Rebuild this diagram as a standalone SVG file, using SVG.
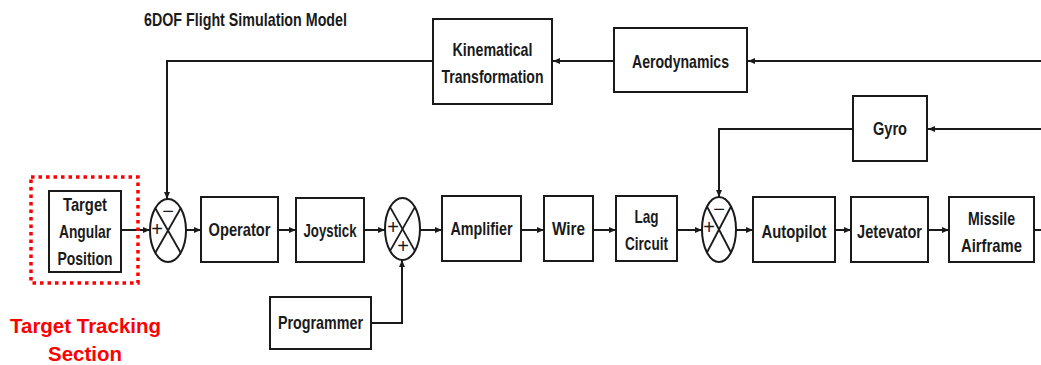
<svg xmlns="http://www.w3.org/2000/svg" width="1041" height="365" viewBox="0 0 1041 365">
<style>
.box{fill:#fff;stroke:#1a1a1a;stroke-width:2}
.lbl{font-family:"Liberation Sans",Arial,sans-serif;font-weight:bold;font-size:18.5px;fill:#1a1a1a;text-anchor:middle}
.sign{font-family:"Liberation Sans",Arial,sans-serif;font-size:20px;fill:#1a1a1a;text-anchor:middle}
.sum{fill:#fff;stroke:#1a1a1a;stroke-width:2}
.xl{stroke:#1a1a1a;stroke-width:1.8}
.c{fill:none;stroke:#1a1a1a;stroke-width:2}
.red{font-family:"Liberation Sans",Arial,sans-serif;font-weight:bold;font-size:21px;fill:#ff0000;text-anchor:middle}
</style>
<defs>
<marker id="ah" markerUnits="userSpaceOnUse" markerWidth="8" markerHeight="7" refX="7" refY="3" orient="auto">
<path d="M0,0 L7,3 L0,6 z" fill="#1a1a1a"/>
</marker>
</defs>
<text id="title" x="144" y="26" class="lbl" style="text-anchor:start;font-size:19px" textLength="203" lengthAdjust="spacingAndGlyphs">6DOF Flight Simulation Model</text>
<g id="connectors">
<path class="c" d="M1041,61 H748" marker-end="url(#ah)"/>
<path class="c" d="M614,61 H553" marker-end="url(#ah)"/>
<path class="c" d="M433,61 H167 V199" marker-end="url(#ah)"/>
<path class="c" d="M1041,129 H928" marker-end="url(#ah)"/>
<path class="c" d="M853,129 H719 V197" marker-end="url(#ah)"/>
<path class="c" d="M121,230 H150" marker-end="url(#ah)"/>
<path class="c" d="M186,230 H201" marker-end="url(#ah)"/>
<path class="c" d="M278,230 H296" marker-end="url(#ah)"/>
<path class="c" d="M364,230 H385" marker-end="url(#ah)"/>
<path class="c" d="M420,230 H442" marker-end="url(#ah)"/>
<path class="c" d="M521,230 H544" marker-end="url(#ah)"/>
<path class="c" d="M593,230 H616" marker-end="url(#ah)"/>
<path class="c" d="M677,230 H702" marker-end="url(#ah)"/>
<path class="c" d="M736,230 H753" marker-end="url(#ah)"/>
<path class="c" d="M835,230 H851" marker-end="url(#ah)"/>
<path class="c" d="M928,230 H949" marker-end="url(#ah)"/>
<path class="c" d="M1034,230 H1041"/>
<path class="c" d="M371,323 H402 V260" marker-end="url(#ah)"/>
</g>
<g id="section">
<rect x="31" y="177" width="107" height="106" fill="none" stroke="#ff0000" stroke-width="3.5" stroke-dasharray="3.5 4"/>
<text class="red" x="85.5" y="333" textLength="151" lengthAdjust="spacingAndGlyphs">Target Tracking</text>
<text class="red" x="85" y="361" textLength="74" lengthAdjust="spacingAndGlyphs">Section</text>
</g>
<g id="target">
<rect class="box" x="49" y="191" width="72" height="81"/>
<text class="lbl" x="85" y="211" textLength="44" lengthAdjust="spacingAndGlyphs">Target</text>
<text class="lbl" x="85" y="238" textLength="52" lengthAdjust="spacingAndGlyphs">Angular</text>
<text class="lbl" x="85" y="265" textLength="55" lengthAdjust="spacingAndGlyphs">Position</text>
</g>
<g id="kinematical">
<rect class="box" x="433" y="19" width="119" height="85"/>
<text class="lbl" x="492.5" y="56" textLength="80" lengthAdjust="spacingAndGlyphs">Kinematical</text>
<text class="lbl" x="492.5" y="83" textLength="102" lengthAdjust="spacingAndGlyphs">Transformation</text>
</g>
<g id="aerodynamics">
<rect class="box" x="614" y="28" width="133" height="64"/>
<text class="lbl" x="680.5" y="68" textLength="97" lengthAdjust="spacingAndGlyphs">Aerodynamics</text>
</g>
<g id="gyro">
<rect class="box" x="853" y="96" width="74" height="65"/>
<text class="lbl" x="890" y="135" textLength="34" lengthAdjust="spacingAndGlyphs">Gyro</text>
</g>
<g id="sum1">
<ellipse class="sum" cx="168" cy="230.5" rx="18" ry="31.5"/>
<line class="xl" x1="155.3" y1="208.2" x2="180.7" y2="252.8"/>
<line class="xl" x1="180.7" y1="208.2" x2="155.3" y2="252.8"/>
<text class="sign" x="168" y="218">−</text>
<text class="sign" x="157" y="236">+</text>
</g>
<g id="operator">
<rect class="box" x="201" y="197" width="77" height="65"/>
<text class="lbl" x="239.5" y="236" textLength="62" lengthAdjust="spacingAndGlyphs">Operator</text>
</g>
<g id="joystick">
<rect class="box" x="296" y="198" width="68" height="64"/>
<text class="lbl" x="330" y="237" textLength="53" lengthAdjust="spacingAndGlyphs">Joystick</text>
</g>
<g id="sum2">
<ellipse class="sum" cx="402.5" cy="229" rx="17.5" ry="31"/>
<line class="xl" x1="390.1" y1="207.1" x2="414.9" y2="250.9"/>
<line class="xl" x1="414.9" y1="207.1" x2="390.1" y2="250.9"/>
<text class="sign" x="393" y="234">+</text>
<text class="sign" x="403" y="253">+</text>
</g>
<g id="programmer">
<rect class="box" x="270" y="297" width="101" height="52"/>
<text class="lbl" x="320.5" y="329" textLength="85" lengthAdjust="spacingAndGlyphs">Programmer</text>
</g>
<g id="amplifier">
<rect class="box" x="442" y="196" width="79" height="65"/>
<text class="lbl" x="481.5" y="235" textLength="62" lengthAdjust="spacingAndGlyphs">Amplifier</text>
</g>
<g id="wire">
<rect class="box" x="544" y="196" width="49" height="65"/>
<text class="lbl" x="568.5" y="235" textLength="33" lengthAdjust="spacingAndGlyphs">Wire</text>
</g>
<g id="lag">
<rect class="box" x="616" y="196" width="61" height="65"/>
<text class="lbl" x="646.5" y="223" textLength="24" lengthAdjust="spacingAndGlyphs">Lag</text>
<text class="lbl" x="646.5" y="250" textLength="43" lengthAdjust="spacingAndGlyphs">Circuit</text>
</g>
<g id="sum3">
<ellipse class="sum" cx="719" cy="229.5" rx="17" ry="32.5"/>
<line class="xl" x1="707" y1="206.5" x2="731" y2="252.5"/>
<line class="xl" x1="731" y1="206.5" x2="707" y2="252.5"/>
<text class="sign" x="719" y="216">−</text>
<text class="sign" x="709" y="234">+</text>
</g>
<g id="autopilot">
<rect class="box" x="753" y="197" width="82" height="65"/>
<text class="lbl" x="794" y="238" textLength="65" lengthAdjust="spacingAndGlyphs">Autopilot</text>
</g>
<g id="jetevator">
<rect class="box" x="851" y="197" width="77" height="65"/>
<text class="lbl" x="889.5" y="238" textLength="65" lengthAdjust="spacingAndGlyphs">Jetevator</text>
</g>
<g id="airframe">
<rect class="box" x="949" y="197" width="85" height="65"/>
<text class="lbl" x="991.5" y="225" textLength="47" lengthAdjust="spacingAndGlyphs">Missile</text>
<text class="lbl" x="991.5" y="252" textLength="61" lengthAdjust="spacingAndGlyphs">Airframe</text>
</g>
</svg>
